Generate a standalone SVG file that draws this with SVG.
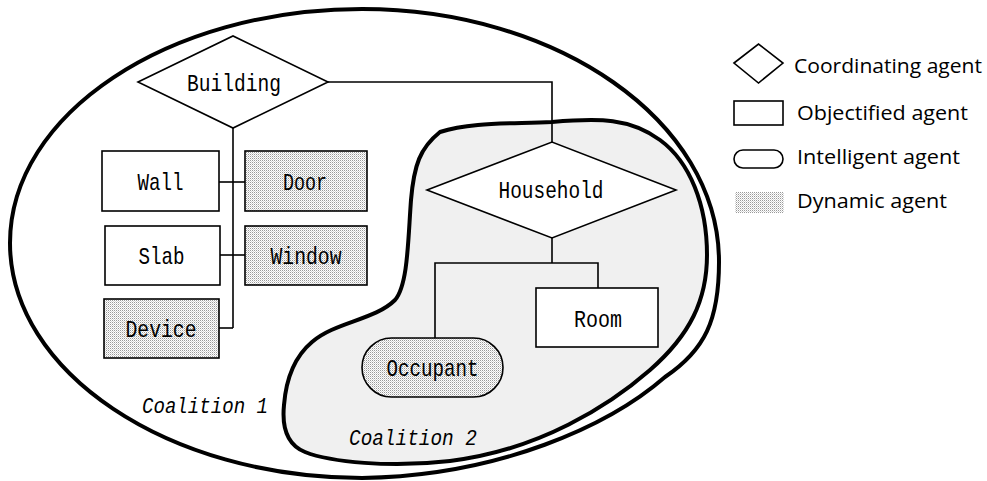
<svg xmlns="http://www.w3.org/2000/svg" width="987" height="481" viewBox="0 0 987 481">
<style>
.node{fill:#fff;stroke:#000;stroke-width:1.6}
.dyn{fill:url(#dots);stroke:#000;stroke-width:1.6}
.lbl{font-family:"Liberation Mono","DejaVu Sans Mono",monospace;font-size:24px;fill:#000;text-anchor:middle}
.coal{font-family:"Liberation Mono","DejaVu Sans Mono",monospace;font-size:22px;font-style:italic;fill:#000}
.leg{font-family:"Open Sans","Noto Sans","Liberation Sans",sans-serif;font-size:20px;fill:#000}
.conn{fill:none;stroke:#000;stroke-width:1.6}
</style>
<defs>
<pattern id="dots" x="0" y="0" width="2" height="2" patternUnits="userSpaceOnUse">
<rect x="0" y="0" width="2" height="2" fill="#fff"/>
<rect x="0" y="0" width="1" height="1" fill="#999"/>
<rect x="1" y="1" width="1" height="1" fill="#d4d4d4"/>
</pattern>
</defs>
<rect width="987" height="481" fill="#fff"/>
<g id="coalition1">
<path d="M 10,243 C 10,114 168,9 362,9 C 556,9 719,120 719,262 C 719,320 705,350 665,377 C 610,425 500,476 362,478 C 168,478 10,372 10,243 Z" fill="#fff" stroke="#000" stroke-width="4"/>
<text class="coal" x="142" y="413" textLength="126" lengthAdjust="spacingAndGlyphs">Coalition 1</text>
</g>
<g id="coalition2">
<path d="M 552,122 C 600,118 630,118 660,140 C 690,162 707,205 707,255 C 707,300 690,335 650,370 C 610,405 540,450 450,461 C 390,468 330,462 305,452 C 285,444 282,425 284,405 C 286,380 293,358 312,342 C 335,322 375,320 395,300 C 408,285 408,240 411,200 C 414,165 420,148 440,132 C 470,122 510,124 552,122 Z" fill="#f0f0f0" stroke="#000" stroke-width="4"/>
<text class="coal" x="349" y="445" textLength="128" lengthAdjust="spacingAndGlyphs">Coalition 2</text>
</g>
<g id="connectors">
<polyline class="conn" points="328,82 552,82 552,142"/>
<line class="conn" x1="233" y1="128" x2="233" y2="328"/>
<line class="conn" x1="219" y1="182" x2="245" y2="182"/>
<line class="conn" x1="220" y1="255" x2="245" y2="255"/>
<line class="conn" x1="219" y1="328" x2="233" y2="328"/>
<line class="conn" x1="552" y1="238" x2="552" y2="263"/>
<polyline class="conn" points="435,338 435,263 598,263 598,288"/>
</g>
<g id="building">
<polygon class="node" points="138,82 233,36 328,82 233,128"/>
<text class="lbl" x="234" y="91" textLength="94" lengthAdjust="spacingAndGlyphs">Building</text>
</g>
<g id="wall">
<rect class="node" x="102" y="151" width="117" height="60"/>
<text class="lbl" x="160.5" y="190" textLength="46" lengthAdjust="spacingAndGlyphs">Wall</text>
</g>
<g id="door">
<rect class="dyn" x="245" y="151" width="122" height="60"/>
<text class="lbl" x="305" y="190" textLength="44" lengthAdjust="spacingAndGlyphs">Door</text>
</g>
<g id="slab">
<rect class="node" x="105" y="226" width="115" height="59"/>
<text class="lbl" x="161.5" y="264" textLength="46" lengthAdjust="spacingAndGlyphs">Slab</text>
</g>
<g id="window">
<rect class="dyn" x="245" y="226" width="122" height="59"/>
<text class="lbl" x="306" y="264" textLength="71" lengthAdjust="spacingAndGlyphs">Window</text>
</g>
<g id="device">
<rect class="dyn" x="104" y="299" width="115" height="59"/>
<text class="lbl" x="161" y="337" textLength="71" lengthAdjust="spacingAndGlyphs">Device</text>
</g>
<g id="household">
<polygon class="node" points="427,190 552,142 676,190 552,238"/>
<text class="lbl" x="551" y="198" textLength="105" lengthAdjust="spacingAndGlyphs">Household</text>
</g>
<g id="room">
<rect class="node" x="536" y="288" width="122" height="59"/>
<text class="lbl" x="598" y="327" textLength="48" lengthAdjust="spacingAndGlyphs">Room</text>
</g>
<g id="occupant">
<rect class="dyn" x="362" y="338" width="141" height="59" rx="29.5" ry="29.5"/>
<text class="lbl" x="432.5" y="376" textLength="92" lengthAdjust="spacingAndGlyphs">Occupant</text>
</g>
<g id="legend">
<polygon points="734,63 758.5,44 783,63 758.5,83" fill="#fff" stroke="#000" stroke-width="1.6"/>
<text class="leg" x="794" y="73" textLength="188" lengthAdjust="spacingAndGlyphs">Coordinating agent</text>
<rect x="734" y="101" width="49" height="24" fill="#fff" stroke="#000" stroke-width="1.6"/>
<text class="leg" x="797" y="120" textLength="171" lengthAdjust="spacingAndGlyphs">Objectified agent</text>
<rect x="734" y="150" width="49" height="18" rx="9" ry="9" fill="#fff" stroke="#000" stroke-width="1.6"/>
<text class="leg" x="797" y="164" textLength="163" lengthAdjust="spacingAndGlyphs">Intelligent agent</text>
<rect x="735" y="192" width="49" height="21" fill="url(#dots)"/>
<text class="leg" x="797" y="208" textLength="150" lengthAdjust="spacingAndGlyphs">Dynamic agent</text>
</g>
</svg>
